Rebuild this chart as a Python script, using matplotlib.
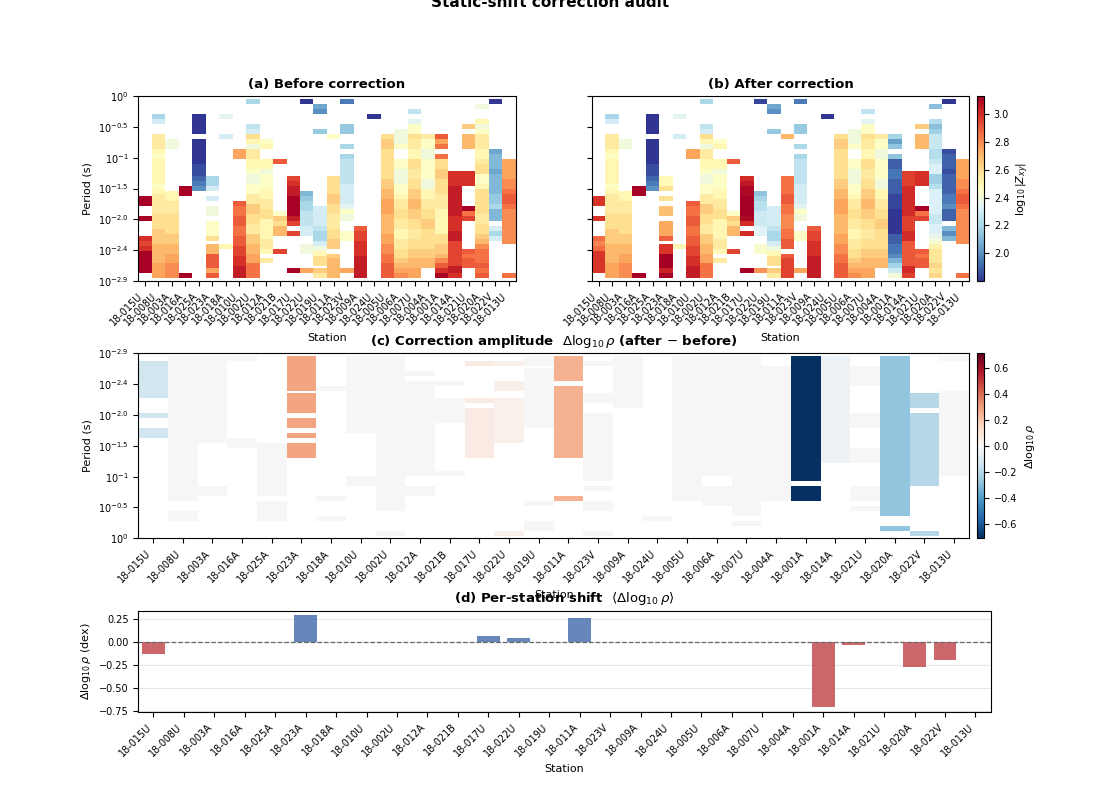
import matplotlib
matplotlib.use("Agg")
import matplotlib.pyplot as plt
import numpy as np

stations = ["18-015U", "18-008U", "18-003A", "18-016A", "18-025A", "18-023A", "18-018A",
            "18-010U", "18-002U", "18-012A", "18-021B", "18-017U", "18-022U", "18-019U",
            "18-011A", "18-023V", "18-009A", "18-024U", "18-005U", "18-006A", "18-007U",
            "18-004A", "18-001A", "18-014A", "18-021U", "18-020A", "18-022V", "18-013U"]

# per-station static shift (dex)
shift = [-0.134, 0.0, 0.0, 0.0, 0.0, 0.286, 0.0, 0.0, 0.0, 0.0, 0.0, 0.058, 0.036, 0.0,
         0.254, 0.0, 0.0, 0.0, 0.0, 0.0, 0.0, 0.0, -0.714, -0.040, 0.0, -0.279, -0.203, 0.0]

# log10|Zxy| before correction, per station, as runs "row-row:level" over 72 half-rows
# (row 0 = longest period 10^0, row 71 = 10^-2.9); level letters a..z = 1.80..3.05, Z = 3.12
before_runs = [
    "39-42Z 47-48Z 55-56y 57-58x 59-60y 61-69Z",
    "6-7i 8-9k 14-19p 20-21o 22-23n 24-33o 34-35n 36-37o 38-45p 46-51q 52-57r 58-65s 66-71t",
    "16-19m 37-40o 41-45p 46-53q 54-57r 58-61s 62-65t 66-71u",
    "35-38Z 70-71Z",
    "6-13a 16-25a 26-30b 31-32c 33-34d 35-36e",
    "31-34i 35-36k 39-40k 43-46m 49-54n 55-56q 58-61s 62-67w 68-69t 70-71w",
    "6-7l 14-15k 58-59o",
    "20-23t 41-42w 43-46v 47-50w 51-54v 55-58w 59-62x 63-66y 67-71z",
    "0-1i 10-11j 12-13k 14-15q 16-17o 18-19m 20-23p 24-27o 28-29n 30-33m 34-37n 38-41p "
    "42-45r 46-49q 50-53p 54-57r 58-61s 62-65t 66-71v",
    "16-17n 18-19o 24-27o 28-29m 30-35n 36-39o 40-43p 44-47q 48-55o 56-59p 60-61o 64-65p",
    "24-25w 45-46n 47-48r 49-50q 51-52s 53-54s 60-61x",
    "31-32x 33-34y 35-38z 39-46Z 47-48z 49-50x 53-54x 68-69Z",
    "0-1a 37-38g 39-40h 41-44i 45-50j 51-54k 58-61m 68-69t",
    "2-3f 4-5e 12-13h 43-50k 51-52j 53-56i 57-58k 59-60m 61-62o 63-66q 68-69r 70-71p",
    "14-15n 31-37q 38-41r 42-45q 46-51p 52-55q 56-59r 62-63r 64-71s",
    "0-1d 10-13h 18-19i 22-23i 24-33j 34-41k 42-43l 44-45n 46-48m 53-56n 68-69t",
    "51-52w 53-56x 57-62y 63-71z",
    "6-7a",
    "14-15q 16-19r 20-31q 32-35r 36-39s 40-45t 46-53s 54-57t 58-61u 62-65v 66-71w",
    "12-17m 18-19n 24-27n 28-33m 34-37n 38-39o 40-43p 44-47q 48-51p 52-55o 56-59p 60-63q "
    "64-65r 66-67s 68-69t 70-71u",
    "4-5j 8-9l 10-13n 14-15q 16-19p 20-23o 24-27q 28-31p 32-35q 36-39r 40-43s 44-47r 48-51q "
    "52-55p 56-59q 60-63r 64-67s 68-71t",
    "14-15p 16-19n 20-23m 24-31n 32-35m 36-39o 40-43p 44-47q 48-51r 52-59q 60-63r 64-67s",
    "14-15w 16-17t 18-19v 22-23v 24-27q 28-31r 32-37q 38-43p 44-53o 54-57q 58-61r 62-63s "
    "64-65u 66-67w 68-69y 70-71Z",
    "29-34y 35-46z 47-52y 53-56z 57-66x 67-69z 70-71y",
    "10-11r 14-19s 29-34y 43-44Z 45-46v 47-48x 60-61w 62-63v 64-67w",
    "2-3m 8-9o 10-11m 12-13n 14-19p 20-23o 24-25p 26-29q 30-33n 34-35o 36-45q 46-49p 50-53q "
    "54-55r 56-57s 58-59u 60-65v 66-67w 68-69v 70-71w",
    "0-1a 20-21f 22-27g 28-29f 30-37g 38-41h 42-43i 44-48g 51-52k 53-54i 55-56k",
    "24-31t 32-35u 36-37v 38-41w 42-43v 44-57u 70-71v",
]

period_labels = ["$10^{0}$", "$10^{-0.5}$", "$10^{-1}$", "$10^{-1.5}$",
                 "$10^{-2.0}$", "$10^{-2.4}$", "$10^{-2.9}$"]

NROW = 72
CODES = "abcdefghijklmnopqrstuvwxyz"


def level(c):
    if c == "Z":
        return 3.12
    return 1.80 + 0.05 * CODES.index(c)


def parse_runs(runs):
    col = np.full(NROW, np.nan)
    for tok in runs.split():
        span, c = tok[:-1], tok[-1]
        a, b = span.split("-")
        col[int(a):int(b) + 1] = level(c)
    return col


n = len(stations)
before = np.column_stack([parse_runs(r) for r in before_runs])
after = before + np.array(shift)[None, :]
delta = after - before

xe = np.arange(n + 1) - 0.5
ye = np.arange(NROW + 1)
x = np.arange(n)
yt = np.linspace(-1, NROW + 1, 7)

vmin, vmax = 1.80, 3.13
dmax = np.max(np.abs(shift))

fig = plt.figure(figsize=(11, 8), dpi=100)
fig.text(0.5, 0.997, "Static-shift correction audit", ha="center", va="center",
         fontsize=11, fontweight="bold")

ax_a = fig.add_axes([0.1257, 0.6488, 0.3431, 0.2309])
ax_b = fig.add_axes([0.5382, 0.6488, 0.3427, 0.2309])
cax_b = fig.add_axes([0.8885, 0.6488, 0.0061, 0.2309])
ax_c = fig.add_axes([0.1257, 0.3271, 0.7552, 0.2313])
cax_c = fig.add_axes([0.8885, 0.3271, 0.0061, 0.2313])
ax_d = fig.add_axes([0.1257, 0.11, 0.7749, 0.1266])

for ax, data, title in [(ax_a, before, "(a) Before correction"),
                        (ax_b, after, "(b) After correction")]:
    m = ax.pcolormesh(xe, ye, np.ma.masked_invalid(data), cmap="RdYlBu_r",
                      vmin=vmin, vmax=vmax, shading="flat")
    ax.set_xlim(-0.5, n - 0.5)
    ax.set_ylim(NROW + 1, -1)
    ax.set_xticks(x)
    ax.set_xticklabels(stations, rotation=45, ha="right", fontsize=7)
    ax.set_yticks(yt)
    ax.set_title(title, fontsize=9.5, fontweight="bold")
    ax.set_xlabel("Station", fontsize=8)
    ax.tick_params(labelsize=7)

ax_a.set_yticklabels(period_labels)
ax_a.set_ylabel("Period (s)", fontsize=8)
ax_b.set_yticklabels([])

cb = fig.colorbar(m, cax=cax_b)
cb.set_ticks([2.0, 2.2, 2.4, 2.6, 2.8, 3.0])
cb.ax.tick_params(labelsize=7)
cb.set_label(r"$\log_{10}|Z_{xy}|$", fontsize=8)

mc = ax_c.pcolormesh(xe, ye, np.ma.masked_invalid(delta), cmap="RdBu_r",
                     vmin=-dmax, vmax=dmax, shading="flat")
ax_c.set_xlim(-0.5, n - 0.5)
ax_c.set_ylim(-1, NROW + 1)
ax_c.set_xticks(x)
ax_c.set_xticklabels(stations, rotation=45, ha="right", fontsize=7)
ax_c.set_yticks(yt)
ax_c.set_yticklabels(period_labels)
ax_c.tick_params(labelsize=7)
ax_c.set_xlabel("Station", fontsize=8)
ax_c.set_ylabel("Period (s)", fontsize=8)
ax_c.set_title(r"(c) Correction amplitude  $\Delta\log_{10}\rho$ (after $-$ before)",
               fontsize=9.5, fontweight="bold")

cbc = fig.colorbar(mc, cax=cax_c)
cbc.set_ticks([-0.6, -0.4, -0.2, 0.0, 0.2, 0.4, 0.6])
cbc.ax.tick_params(labelsize=7)
cbc.set_label(r"$\Delta\log_{10}\rho$", fontsize=8)

colors = ["#4c72b0" if s > 0 else "#c44e52" for s in shift]
ax_d.bar(x, shift, width=0.75, color=colors, alpha=0.85, zorder=2)
ax_d.axhline(0, color="0.4", ls="--", lw=0.9, zorder=3)
ax_d.set_xlim(-0.5, n - 0.5)
ax_d.set_xticks(x)
ax_d.set_xticklabels(stations, rotation=45, ha="right", fontsize=7)
ax_d.set_yticks([0.25, 0.0, -0.25, -0.5, -0.75])
ax_d.grid(axis="y", color="0.9", lw=0.8, zorder=0)
ax_d.tick_params(labelsize=7)
ax_d.set_xlabel("Station", fontsize=8)
ax_d.set_ylabel(r"$\Delta\log_{10}\rho$ (dex)", fontsize=8)
ax_d.set_title(r"(d) Per-station shift  $\langle\Delta\log_{10}\rho\rangle$",
               fontsize=9.5, fontweight="bold")

fig.savefig("out.png", dpi=100)
